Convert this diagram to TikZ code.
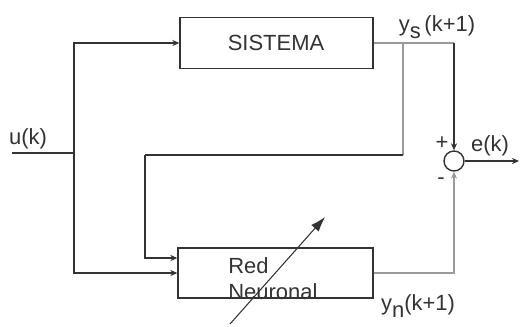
\documentclass[tikz,border=0pt]{standalone}
\usepackage{fontspec}
\setmainfont{Liberation Sans}
\usetikzlibrary{arrows.meta}
\definecolor{dkline}{HTML}{333333}
\definecolor{grline}{HTML}{9A9A9A}
\tikzset{
  blk/.style={draw=dkline,line width=0.8pt,rectangle,inner sep=0pt},
  dk/.style={draw=dkline,line width=0.8pt},
  gr/.style={draw=grline,line width=0.8pt},
  tip/.style={-{Stealth[length=4pt,width=3.5pt]}},
  lbl/.style={font=\fontsize{12.5}{14}\selectfont,text=dkline,inner sep=0pt}
}
\begin{document}
\begin{tikzpicture}[x=0.02cm,y=-0.02cm]
  \useasboundingbox (0,0) rectangle (520,326);
  % blocks
  \node[blk,minimum width=3.86cm,minimum height=1.02cm] (sis) at (276.5,43) {};
  \node[lbl] (sistxt) at (276,43) {SISTEMA};
  \node[blk,minimum width=3.9cm,minimum height=1.0cm] (red) at (275.5,273) {};
  \node[lbl,anchor=south west,align=left] (redtxt) at (228,300) {Red\\[1pt]Neuronal};
  \node[draw=dkline,line width=0.8pt,circle,minimum size=0.4cm,inner sep=0pt] (sum) at (454,161) {};
  % points
  \coordinate (uin) at (12,153);
  \coordinate (split) at (74,153);
  \coordinate (ys) at (403,43);
  \coordinate (yscorner) at (454,43);
  \coordinate (fbtop) at (403,155);
  \coordinate (fb) at (145,155);
  \coordinate (eout) at (519,161);
  % labels
  \node[lbl] (uk) at (28,139) {u(k)};
  \node[lbl] (yslbl) at (437,27) {y\raisebox{-0.6ex}{s}\,(k+1)};
  \node[lbl] (ynlbl) at (418,306) {y\raisebox{-0.6ex}{n}(k+1)};
  \node[lbl] (ek) at (490,146) {e(k)};
  \node[lbl] (plus) at (442,143) {+};
  \node[lbl] (minus) at (441,181) {-};
  % connectors
  \draw[dk] (uin) -- (split);
  \draw[dk,tip] (split) |- (sis.west);
  \draw[dk,tip] (split) |- (red.west);
  \draw[gr] (sis.east) -- (yscorner);
  \draw[dk,tip] (yscorner) -- (sum.north);
  \draw[gr] (ys) -- (fbtop);
  \draw[dk] (fbtop) -- (fb);
  \draw[dk,tip] (fb) |- ([yshift=0.3cm]red.west);
  \draw[gr,tip] (red.east) -| (sum.south);
  \draw[dk,tip] (sum.east) -- (eout);
  % adjustable weights
  \draw[dkline,line width=0.6pt,-{Latex[length=0.3cm,width=0.2cm]}] (230,324) -- (325,217);
\end{tikzpicture}
\end{document}
